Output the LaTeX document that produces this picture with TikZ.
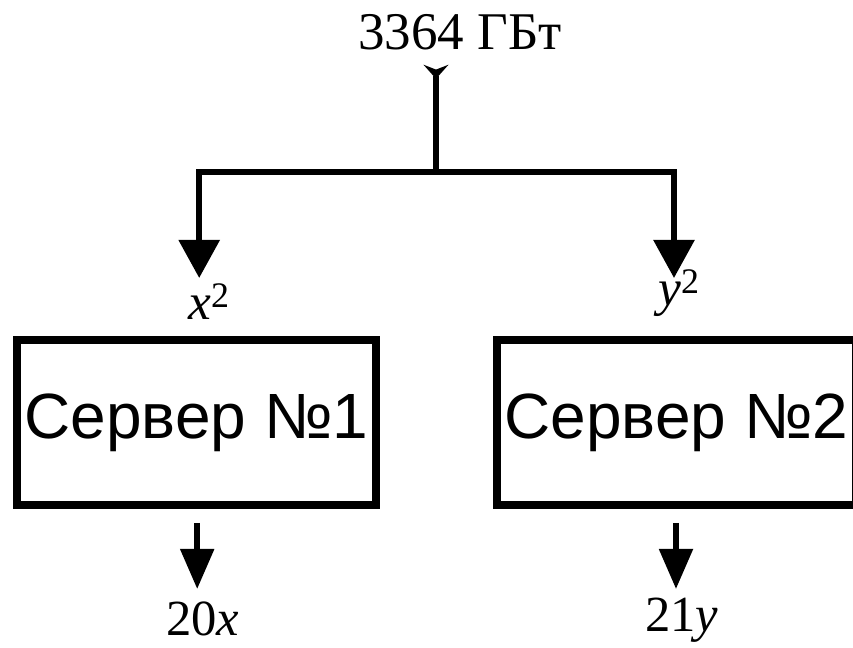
\documentclass[tikz,border=0pt]{standalone}
\usepackage{fontspec}
\setmainfont{Liberation Serif}
\newfontfamily\srvfont{Liberation Sans}
\usepackage{tikz}
\usetikzlibrary{arrows.meta}
\tikzstyle{srvbox}=[draw, line width=5.5pt, minimum width=8.975cm, minimum height=4.125cm, inner sep=0pt, font=\srvfont\fontsize{45.5}{48}\selectfont]
\tikzstyle{wire}=[line width=4.2pt]
\tikzstyle{lbl}=[inner sep=0pt, anchor=base west]

\begin{document}
\begin{tikzpicture}
      \useasboundingbox (0,0) rectangle (21.325,16.2);
      \node[inner sep=0pt, anchor=base, font=\fontsize{37.7}{40}\selectfont] (total) at (11.5,14.95) {3364 ГБт};
      \coordinate (src) at (10.9,14.58);
      \coordinate (fork) at (10.9,11.9);
      \coordinate (in1) at (4.98,9.25);
      \coordinate (in2) at (16.85,9.25);
      \draw [wire,{Stealth[reversed,length=0.35cm,width=0.62cm,inset=0.12cm]}-] (src) -- (fork);
      \draw [wire,-{Triangle[length=0.95cm,width=1cm]}] (fork) -| (in1);
      \draw [wire,-{Triangle[length=0.95cm,width=1cm]}] (fork) -| (in2);
      \node[lbl, font=\fontsize{36.5}{38}\selectfont] (x2) at (4.7,8.2) {\textit{x}\textsuperscript{2}};
      \node[lbl, font=\fontsize{36.5}{38}\selectfont] (y2) at (16.45,8.55) {\textit{y}\textsuperscript{2}};
      \node[srvbox] (srv1) at (4.9125,5.6375) {Сервер №1};
      \node[srvbox] (srv2) at (16.9125,5.6375) {Сервер №2};
      \coordinate (out1) at (4.93,3.125);
      \coordinate (end1) at (4.93,1.475);
      \coordinate (out2) at (16.9,3.125);
      \coordinate (end2) at (16.9,1.475);
      \draw [wire,-{Triangle[length=1cm,width=0.82cm]}] (out1) -- (end1);
      \draw [wire,-{Triangle[length=1cm,width=0.82cm]}] (out2) -- (end2);
      \node[lbl, font=\fontsize{36}{38}\selectfont] (res1) at (4.15,0.3) {20\textit{x}};
      \node[lbl, font=\fontsize{36}{38}\selectfont] (res2) at (16.125,0.4) {21\textit{y}};
\end{tikzpicture}
\end{document}
